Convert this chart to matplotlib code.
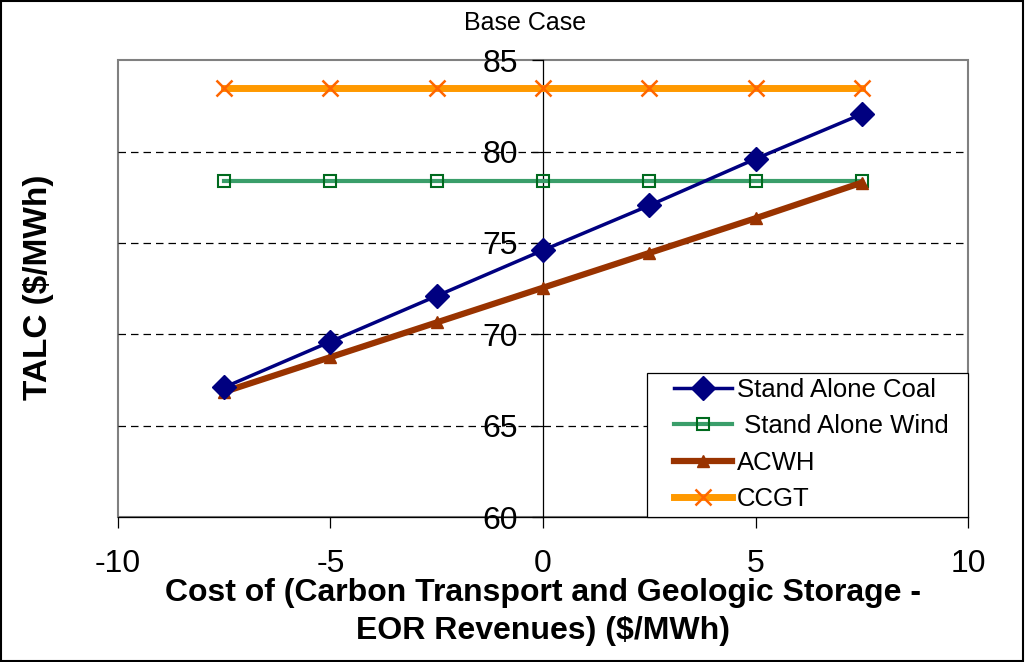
import matplotlib
matplotlib.use("Agg")
import matplotlib.pyplot as plt
from matplotlib.patches import Rectangle

plt.rcParams['font.family'] = ['Liberation Sans', 'DejaVu Sans']
plt.rcParams['axes.unicode_minus'] = False

# data
cost = [-7.5, -5, -2.5, 0, 2.5, 5, 7.5]
coal = [67.1, 69.6, 72.1, 74.6, 77.05, 79.6, 82.05]
wind = [78.4, 78.4, 78.4, 78.4, 78.4, 78.4, 78.4]
acwh = [66.85, 68.75, 70.65, 72.55, 74.45, 76.35, 78.3]
ccgt = [83.5, 83.5, 83.5, 83.5, 83.5, 83.5, 83.5]

fig = plt.figure(figsize=(10.32, 6.62), dpi=100)
ax = fig.add_axes([0.1143, 0.219, 0.8237, 0.690])

ax.plot(cost, coal, color='#000080', lw=2.5, marker='D', ms=12.5,
        mfc='#000080', mec='#000080', label='Stand Alone Coal', zorder=4)
ax.plot(cost, wind, color='#3a9e6a', lw=3, marker='s', ms=8,
        mfc='none', mec='#006a1e', mew=1.5, label=' Stand Alone Wind', zorder=3)
ax.plot(cost, acwh, color='#993300', lw=4.5, marker='^', ms=8.5,
        mfc='#993300', mec='#993300', label='ACWH', zorder=3)
ax.plot(cost, ccgt, color='#ff9900', lw=5, marker='x', ms=11,
        mec='#ff6600', mew=1.8, label='CCGT', zorder=3)

ax.set_xlim(-10, 10)
ax.set_ylim(60, 85)
ax.set_xticks([-10, -5, 0, 5, 10])
ax.set_yticks([60, 65, 70, 75, 80, 85])

for yv in [65, 70, 75, 80]:
    ax.axhline(yv, color='black', lw=0.9, ls=(0, (6, 4)), zorder=1)

# plot area frame
ax.add_patch(Rectangle((0, 0), 1, 1, transform=ax.transAxes, fill=False,
                       edgecolor='#808080', lw=1.5, zorder=0.5, clip_on=False))
ax.spines['top'].set_visible(False)
ax.spines['right'].set_visible(False)
ax.spines['left'].set_position(('data', 0))
ax.spines['left'].set_color('black')
ax.spines['left'].set_linewidth(0.9)
ax.spines['bottom'].set_linewidth(0.9)

ax.tick_params(axis='both', direction='out', length=8, width=0.9,
               labelsize=23)
ax.tick_params(axis='y', pad=10)
ax.tick_params(axis='x', pad=15)

fig.text(0.509, 0.965, 'Base Case', fontsize=18, ha='center', va='center')
fig.text(0.037, 0.566, 'TALC ($/MWh)', rotation=90, fontsize=24,
         fontweight='bold', ha='center', va='center')
fig.text(0.526, 0.075, 'Cost of (Carbon Transport and Geologic Storage -\nEOR Revenues) ($/MWh)',
         fontsize=23, fontweight='bold', ha='center', va='center',
         linespacing=1.35)

# legend box drawn separately so the padding can match the reference
ax.add_patch(Rectangle((0.6224, 0.0), 0.3776, 0.315, transform=ax.transAxes,
                       facecolor='white', edgecolor='black', lw=0.9,
                       zorder=5, clip_on=False))
leg = ax.legend(loc='lower right', bbox_to_anchor=(0.985, 0.0), fontsize=18.5,
                frameon=False, borderpad=0.25, labelspacing=0.47,
                handlelength=2.25, handletextpad=0.2, borderaxespad=0)
leg.set_zorder(6)

fig.patches.append(Rectangle((0.001, 0.002), 0.990, 0.996, transform=fig.transFigure,
                             fill=False, edgecolor='black', lw=1.5))

fig.savefig('out.png', dpi=100, facecolor='white')
